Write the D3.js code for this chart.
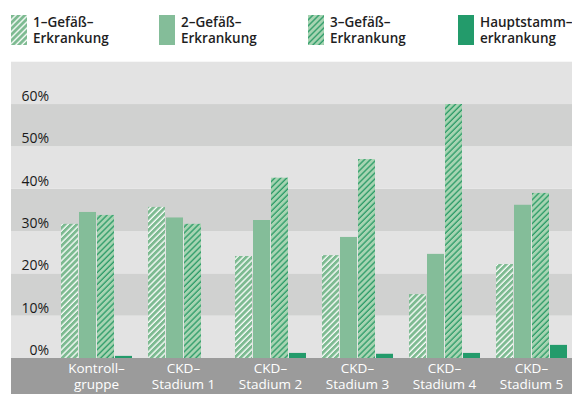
<!DOCTYPE html>
<html><head><meta charset="utf-8">
<script src="https://cdn.jsdelivr.net/npm/d3@7"></script>
<style>html,body{margin:0;padding:0;background:#fff;}svg{display:block;}</style>
</head><body>
<script>
const categories = ["Kontrollgruppe","CKD-Stadium 1","CKD-Stadium 2","CKD-Stadium 3","CKD-Stadium 4","CKD-Stadium 5"];
const categoryLines = [["Kontroll–","gruppe"],["CKD–","Stadium 1"],["CKD–","Stadium 2"],["CKD–","Stadium 3"],["CKD–","Stadium 4"],["CKD–","Stadium 5"]];
const seriesNames = [["1–Gefäß–","Erkrankung"],["2–Gefäß–","Erkrankung"],["3–Gefäß–","Erkrankung"],["Hauptstamm–","erkrankung"]];
const gefaess1 = [31.7, 35.7, 24.1, 24.3, 15.1, 22.2];
const gefaess2 = [34.5, 33.2, 32.6, 28.6, 24.6, 36.2];
const gefaess3 = [33.8, 31.7, 42.6, 47.0, 60.0, 39.0];
const hauptstamm = [0.5, 0, 1.2, 1.0, 1.2, 3.1];
const tickValues = [0,10,20,30,40,50,60];
const tickLabels = ["0%","10%","20%","30%","40%","50%","60%"];

const W = 572, H = 394;
const svg = d3.select("body").append("svg").attr("width", W).attr("height", H);
const FONT = "'Open Sans', 'Noto Sans', sans-serif";

const defs = svg.append("defs");
function stripes(id, bg, fg){
  const p = defs.append("pattern").attr("id", id).attr("patternUnits","userSpaceOnUse")
    .attr("width", 4.2).attr("height", 4.2).attr("patternTransform","rotate(45)");
  p.append("rect").attr("width",4.2).attr("height",4.2).attr("fill",bg);
  p.append("line").attr("x1",1).attr("x2",1).attr("y1",0).attr("y2",4.2)
    .attr("stroke",fg).attr("stroke-width",1.3);
}
stripes("p1", "#7dba91", "#ffffff");
stripes("p3", "#a7d4b2", "#2a9a66");
const fills = ["url(#p1)", "#84bd99", "url(#p3)", "#239b6b"];

const plotL = 11, plotR = 572;
const y = d3.scaleLinear().domain([0,70]).range([358, 61.7]);
const x0 = d3.scaleBand().domain(categories).range([53, 575]).paddingInner(16/87).paddingOuter(8/87);
const x1 = d3.scaleBand().domain(d3.range(4)).range([0, x0.bandwidth()]).paddingInner(1/18);

// background bands
const bands = d3.range(7);
svg.append("g").selectAll("rect").data(bands).join("rect")
  .attr("x", plotL).attr("width", plotR - plotL)
  .attr("y", d => y((d+1)*10)).attr("height", d => y(d*10) - y((d+1)*10))
  .attr("fill", d => d % 2 === 0 ? "#e3e3e3" : "#d0d1d0");

// y labels
svg.append("g").selectAll("text").data(tickValues).join("text")
  .attr("x", 49).attr("y", d => y(d) - 3)
  .attr("text-anchor","end").attr("font-family", FONT).attr("font-size", 14)
  .attr("fill","#1a1a1a").text((d,i) => tickLabels[i]);

// bars
const allSeries = [gefaess1, gefaess2, gefaess3, hauptstamm];
const g = svg.append("g");
categories.forEach((c, ci) => {
  allSeries.forEach((s, si) => {
    if (s[ci] <= 0) return;
    g.append("rect")
      .attr("x", x0(c) + x1(si)).attr("width", x1.bandwidth())
      .attr("y", y(s[ci])).attr("height", y(0) - y(s[ci]))
      .attr("fill", fills[si]);
  });
});

// x axis band
svg.append("rect").attr("x", plotL).attr("y", 358).attr("width", plotR - plotL).attr("height", H - 358).attr("fill", "#9b9b9b");
const xl = svg.append("g");
categories.forEach((c, ci) => {
  categoryLines[ci].forEach((ln, li) => {
    xl.append("text").attr("x", x0(c) + x0.bandwidth()/2).attr("y", 373 + li * 16)
      .attr("text-anchor","middle").attr("font-family", FONT).attr("font-size", 13.5)
      .attr("fill","#ffffff").text(ln);
  });
});

// legend
const legX = [11, 159, 308, 458];
seriesNames.forEach((nm, i) => {
  svg.append("rect").attr("x", legX[i]).attr("y", 15).attr("width", 16).attr("height", 30).attr("fill", fills[i]);
  nm.forEach((ln, li) => {
    svg.append("text").attr("x", legX[i] + 22).attr("y", 27 + li * 16)
      .attr("font-family", FONT).attr("font-size", 13.5).attr("font-weight", 600)
      .attr("fill", "#1e1e1e").text(ln);
  });
});
</script>
</body></html>
